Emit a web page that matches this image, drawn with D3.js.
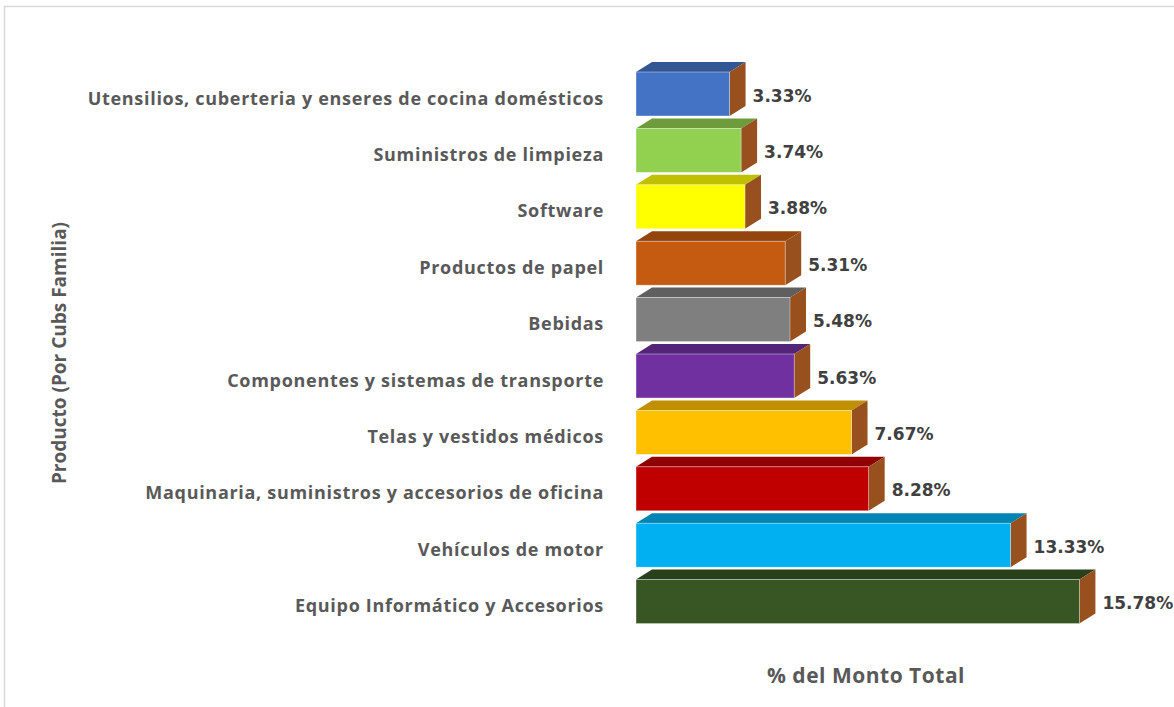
<!DOCTYPE html>
<html>
<head>
<meta charset="utf-8">
<script src="https://cdn.jsdelivr.net/npm/d3@7"></script>
<style>
  html, body { margin: 0; padding: 0; background: #fff; overflow: hidden; }
</style>
</head>
<body>
<div id="chart"></div>
<script>
// categories, top to bottom
var categories = [
    "Utensilios, cuberteria y enseres de cocina domésticos",
    "Suministros de limpieza",
    "Software",
    "Productos de papel",
    "Bebidas",
    "Componentes y sistemas de transporte",
    "Telas y vestidos médicos",
    "Maquinaria, suministros y accesorios de oficina",
    "Vehículos de motor",
    "Equipo Informático y Accesorios"
];
var values = [3.33, 3.74, 3.88, 5.31, 5.48, 5.63, 7.67, 8.28, 13.33, 15.78];
var frontColors = ["#4472c4", "#92d050", "#ffff00", "#c55a11", "#7f7f7f",
                   "#7030a0", "#ffc000", "#c00000", "#00b0f0", "#375623"];
var topColors = ["#335694", "#6e9c3c", "#c0c000", "#94440d", "#5f5f5f",
                 "#542478", "#c09000", "#900000", "#0084b4", "#29411a"];
var sideColor = "#98501e";

var width = 1174, height = 707;
var depthX = 16, depthY = 10;

var svg = d3.select("#chart").append("svg")
    .attr("width", width)
    .attr("height", height);

// outer frame (only top and left edges are visible)
svg.append("rect")
    .attr("x", 4.5).attr("y", 6.5)
    .attr("width", 1300).attr("height", 900)
    .attr("fill", "none")
    .attr("stroke", "#d9d9d9")
    .attr("stroke-width", 1.5);

var x = d3.scaleLinear().domain([0, 10]).range([636, 917]);
var y = d3.scaleBand().domain(categories)
    .range([65.8, 629.8])
    .paddingInner(0.22)
    .paddingOuter(0.11);

var bar = svg.selectAll(".bar")
    .data(categories)
    .enter().append("g")
    .attr("class", "bar");

// top face
bar.append("path")
    .attr("fill", function(d, i) { return topColors[i]; })
    .attr("d", function(d, i) {
        var x0 = x(0), x1 = x(values[i]), yt = y(d);
        return "M" + x0 + "," + yt + "L" + (x0 + depthX) + "," + (yt - depthY)
            + "L" + (x1 + depthX) + "," + (yt - depthY) + "L" + x1 + "," + yt + "Z";
    });

// side face
bar.append("path")
    .attr("fill", sideColor)
    .attr("d", function(d, i) {
        var x1 = x(values[i]), yt = y(d), yb = yt + y.bandwidth();
        return "M" + x1 + "," + yt + "L" + (x1 + depthX) + "," + (yt - depthY)
            + "L" + (x1 + depthX) + "," + (yb - depthY) + "L" + x1 + "," + yb + "Z";
    });

// front face
bar.append("rect")
    .attr("x", x(0))
    .attr("y", function(d) { return y(d); })
    .attr("width", function(d, i) { return x(values[i]) - x(0); })
    .attr("height", y.bandwidth())
    .attr("fill", function(d, i) { return frontColors[i]; })
    .attr("stroke", "#ffffff")
    .attr("stroke-opacity", 0.5)
    .attr("stroke-width", 0.75);

// value labels
bar.append("text")
    .attr("x", function(d, i) { return x(values[i]) + depthX + 7; })
    .attr("y", function(d) { return y(d) + 29.5; })
    .style("font-family", "'DejaVu Sans', Verdana, sans-serif")
    .style("font-weight", "bold")
    .style("font-size", "17px")
    .style("fill", "#404040")
    .text(function(d, i) { return values[i].toFixed(2) + "%"; });

// category labels
svg.selectAll(".cat")
    .data(categories)
    .enter().append("text")
    .attr("class", "cat")
    .attr("x", 604)
    .attr("y", function(d) { return y(d) + 32.5; })
    .attr("text-anchor", "end")
    .style("font-family", "'Open Sans', sans-serif")
    .style("font-weight", "bold")
    .style("font-size", "18px")
    .style("letter-spacing", "0.7px")
    .style("fill", "#595959")
    .text(function(d) { return d; });

// axis titles
svg.append("text")
    .attr("x", 866)
    .attr("y", 683)
    .attr("text-anchor", "middle")
    .style("font-family", "'Open Sans', sans-serif")
    .style("font-weight", "bold")
    .style("font-size", "21px")
    .style("letter-spacing", "0.5px")
    .style("fill", "#595959")
    .text("% del Monto Total");

svg.append("text")
    .attr("transform", "translate(66,353) rotate(-90)")
    .attr("text-anchor", "middle")
    .style("font-family", "'Open Sans', sans-serif")
    .style("font-weight", "bold")
    .style("font-size", "19px")
    .style("fill", "#595959")
    .text("Producto (Por Cubs Familia)");
</script>
</body>
</html>
